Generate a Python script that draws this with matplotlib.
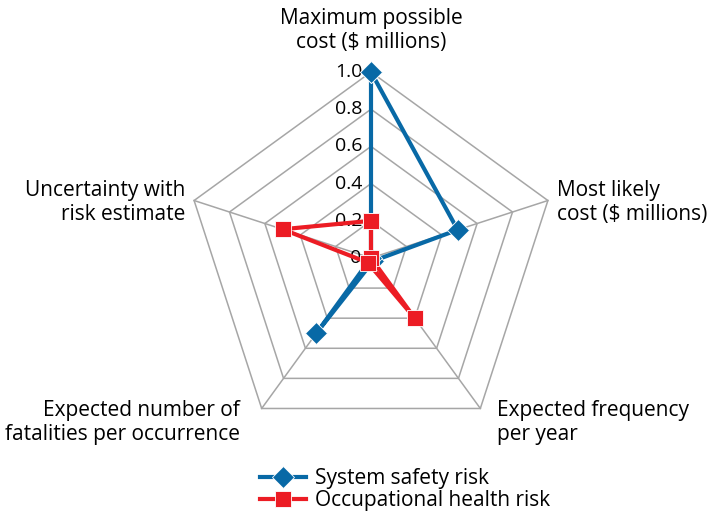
import numpy as np
import matplotlib
matplotlib.use('Agg')
from matplotlib import pyplot as plt

plt.rcParams['font.family'] = ['Open Sans', 'DejaVu Sans']

categories = ['Maximum possible\ncost ($ millions)',
              'Most likely\ncost ($ millions)',
              'Expected frequency\nper year',
              'Expected number of\nfatalities per occurrence',
              'Uncertainty with\nrisk estimate']
system_safety = [1.0, 0.49, 0.02, 0.5, 0.0]
occupational_health = [0.2, 0.0, 0.4, 0.03, 0.5]
rings = [0.2, 0.4, 0.6, 0.8, 1.0]
ring_labels = ['0.2', '0.4', '0.6', '0.8', '1.0']

BLUE = '#0869a6'
RED = '#ec1c24'
GRID = '#a6a6a6'

# figure pixel geometry: chart centre and radius of the 1.0 ring
W, H = 708, 512
CX, CY, R = 371, 258, 186

n = len(categories)
angles = np.pi / 2 - 2 * np.pi * np.arange(n) / n


def to_xy(values):
    v = np.asarray(values, dtype=float)
    return v * np.cos(angles), v * np.sin(angles)


fig = plt.figure(figsize=(W / 100, H / 100), dpi=100)
ax = fig.add_axes([0, 0, 1, 1])
ax.set_xlim(-CX / R, (W - CX) / R)
ax.set_ylim((CY - H) / R, CY / R)
ax.set_aspect('equal')
ax.axis('off')

# pentagon grid and spokes
for r in rings:
    gx, gy = to_xy([r] * n)
    ax.plot(np.append(gx, gx[0]), np.append(gy, gy[0]), color=GRID, lw=1.1,
            zorder=1)
for a in angles:
    ax.plot([0, np.cos(a)], [0, np.sin(a)], color=GRID, lw=1.1, zorder=1)

# scale labels along the top spoke
ax.text(-0.05, 0, '0', ha='right', va='center', fontsize=14, zorder=2)
for r, lab in zip(rings, ring_labels):
    ax.text(-0.045, r, lab, ha='right', va='center', fontsize=14, zorder=2)

# series
for vals, color, marker, ms, label in [
        (system_safety, BLUE, 'D', 11, 'System safety risk'),
        (occupational_health, RED, 's', 11, 'Occupational health risk')]:
    sx, sy = to_xy(vals)
    ax.plot(np.append(sx, sx[0]), np.append(sy, sy[0]), color=color, lw=3.0,
            marker=marker, ms=ms, mec='white', mew=0.6, label=label,
            zorder=3)

# axis titles
label_pos = [
    (0, 1.1, 'center', 'bottom'),
    (1.0, 0.3, 'left', 'center'),
    (0.675, -0.885, 'left', 'center'),
    (-0.705, -0.885, 'right', 'center'),
    (-1.0, 0.3, 'right', 'center'),
]
for text, (lx, ly, ha, va) in zip(categories, label_pos):
    ax.text(lx, ly, text, ha=ha, va=va, fontsize=15, linespacing=1.2)

leg = ax.legend(loc='upper left', bbox_to_anchor=(250 / W, 1 - 458 / H),
                bbox_transform=fig.transFigure, frameon=False, fontsize=15,
                handlelength=2.2, handletextpad=0.4, labelspacing=0.02,
                borderpad=0)

fig.savefig('out.png', dpi=100)
